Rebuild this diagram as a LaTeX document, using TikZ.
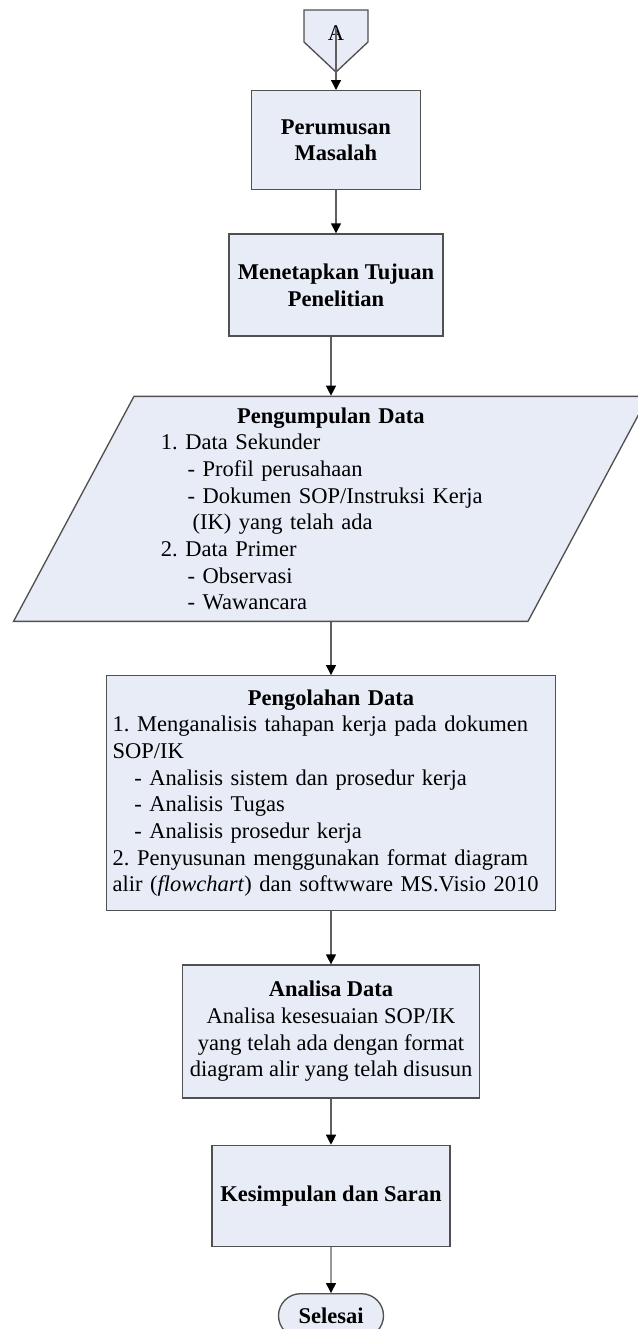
\documentclass[tikz,border=0pt]{standalone}
\usepackage{fontspec}
\setmainfont{Liberation Serif}
\usetikzlibrary{arrows.meta,positioning,shapes.geometric,shapes.misc}
\definecolor{boxfill}{RGB}{231,236,246}
\definecolor{boxline}{RGB}{80,80,80}
\definecolor{flowline}{RGB}{95,95,95}

\begin{document}
\frenchspacing
\fontsize{13.5}{16}\selectfont
\begin{tikzpicture}[
		x=0.6pt, y=-0.6pt,
		block/.style={draw=boxline, fill=boxfill, line width=0.8pt, align=center},
		flow/.style={draw=flowline, line width=0.8pt, -{Triangle[length=6pt, width=6pt, color=black]}},
	]
		\useasboundingbox (0,0) rectangle (638,1329);
		% off-page connector
		\draw[block] (304,10) -- (368,10) -- (368,42) -- (336,72) -- (304,42) -- cycle;
		\coordinate (ujungA) at (336,72);
		\node (konA) at (336,33) {A};
		\node[block, font=\bfseries, below=10.8pt of ujungA, minimum width=101.4pt, minimum height=59.4pt] (rumusan) {Perumusan\\Masalah};
		\node[block, font=\bfseries, below=25.8pt of rumusan, minimum width=128.4pt, minimum height=61.2pt] (tujuan) {Menetapkan Tujuan\\Penelitian};
		\node[block, trapezium, trapezium left angle=63.5, trapezium right angle=116.5, trapezium stretches=true, below=35.4pt of tujuan, xshift=-3pt, minimum width=382.8pt, minimum height=135pt, text width=204pt, align=left] (kumpul) {\makebox[\linewidth]{\bfseries Pengumpulan Data}\\
			1. Data Sekunder\\
			\hspace*{16pt}- Profil perusahaan\\
			\hspace*{16pt}- Dokumen SOP/Instruksi Kerja\\
			\hspace*{19pt}(IK) yang telah ada\\
			2. Data Primer\\
			\hspace*{16pt}- Observasi\\
			\hspace*{16pt}- Wawancara};
		\node[block, below=31.8pt of kumpul, minimum width=269.4pt, minimum height=141pt, inner xsep=3.6pt, text width=262pt, align=left] (olah) {\makebox[\linewidth]{\bfseries Pengolahan Data}\\
			1. Menganalisis tahapan kerja pada dokumen\\
			SOP/IK\\
			\hspace*{13pt}- Analisis sistem dan prosedur kerja\\
			\hspace*{13pt}- Analisis Tugas\\
			\hspace*{13pt}- Analisis prosedur kerja\\
			2. Penyusunan menggunakan format diagram\\
			alir (\textit{flowchart}) dan softwware MS.Visio 2010};
		\node[block, below=31.8pt of olah, minimum width=176.4pt, minimum height=79.8pt] (analisa) {\textbf{Analisa Data}\\Analisa kesesuaian SOP/IK\\yang telah ada dengan format\\diagram alir yang telah disusun};
		\node[block, font=\bfseries, below=27.6pt of analisa, minimum width=142.8pt, minimum height=60.6pt] (simpul) {Kesimpulan dan Saran};
		\node[block, font=\bfseries, rounded rectangle, below=27.6pt of simpul, minimum width=72pt, minimum height=26.4pt] (selesai) {Selesai};

		\draw[flow] ([yshift=3pt]konA.center) -- (rumusan.north);
		\draw[flow] (rumusan) -- (tujuan);
		\draw[flow] (tujuan.south -| kumpul.north) -- (kumpul.north);
		\draw[flow] (kumpul.south) -- (olah.north);
		\draw[flow] (olah) -- (analisa);
		\draw[flow] (analisa) -- (simpul);
		\draw[flow] (simpul) -- (selesai);
	\end{tikzpicture}
\end{document}
